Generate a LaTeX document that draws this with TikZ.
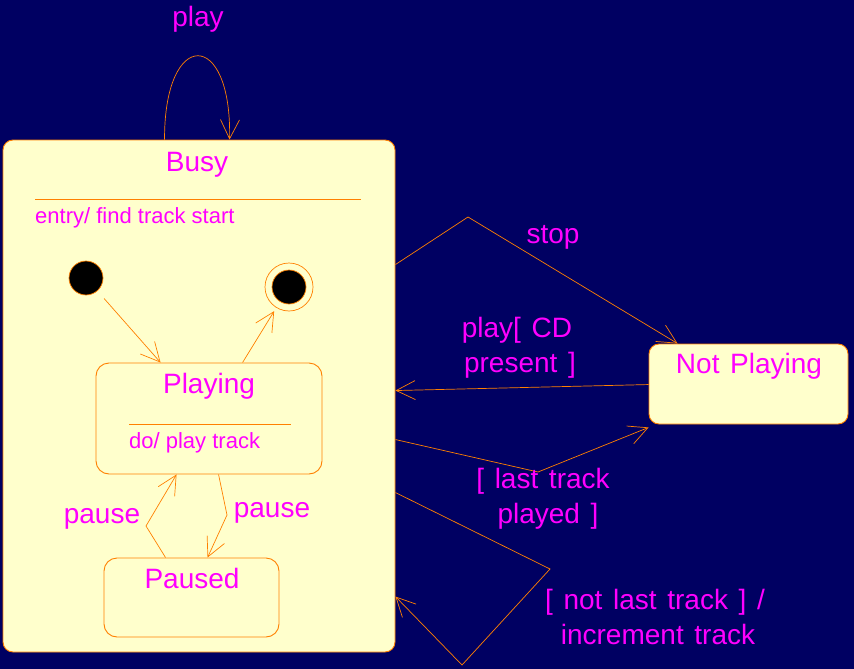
\documentclass[tikz,border=0pt]{standalone}
\usepackage{fontspec}
\setmainfont{Liberation Sans}
\usetikzlibrary{arrows.meta,calc}
\definecolor{bg}{HTML}{000062}
\definecolor{tr}{HTML}{FF8000}
\definecolor{st}{HTML}{FFFFCC}
\definecolor{tx}{HTML}{FF00FF}
\newcommand{\lblfont}{\fontsize{28}{31}\selectfont\spaceskip=0.38em plus 0pt minus 0pt\relax}
\begin{document}
\begin{tikzpicture}[x=1pt,y=-1pt,
  statebox/.style={draw=tr, fill=st, line width=0.9pt, rounded corners=#1, inner sep=0pt},
  lbl/.style={text=tx, font=\lblfont, anchor=base, inner sep=0pt},
  small/.style={text=tx, font=\fontsize{22}{26}\selectfont, anchor=base west, inner sep=0pt},
  trans/.style={draw=tr, line width=0.7pt, -{Straight Barb[length=19pt,width=19pt]}},
  sep/.style={draw=tr, line width=0.8pt},
  dot/.style={circle, fill=black, draw=tr, line width=0.7pt, minimum size=34pt, inner sep=0pt}
]
\fill[bg] (0,0) rectangle (854,669);
\useasboundingbox (0,0) rectangle (854,669);

% states
\node[statebox=10pt, minimum width=392pt, minimum height=512pt] (busy) at (199,396) {};
\node[lbl] (busyT) at (197,171) {Busy};
\coordinate (bs1) at (35,199); \coordinate (bs2) at (361,199);
\draw[sep] (bs1) -- (bs2);
\node[small] (entry) at (35,223) {entry/ find track start};

\node[statebox=13pt, minimum width=226pt, minimum height=111pt] (playing) at (209,418.5) {};
\node[lbl] (playingT) at (209,393) {Playing};
\coordinate (ps1) at (129,424); \coordinate (ps2) at (291,424);
\draw[sep] (ps1) -- (ps2);
\node[small] (dotext) at (129,448) {do/ play track};

\node[statebox=13pt, minimum width=175pt, minimum height=79pt] (paused) at (191.5,597.5) {};
\node[lbl] (pausedT) at (192,588) {Paused};

\node[statebox=10pt, minimum width=199pt, minimum height=80pt] (notplaying) at (748.5,384) {};
\node[lbl] (notplayingT) at (749,373) {Not Playing};

\node[dot] (init) at (86,278) {};
\node[circle, draw=tr, line width=0.7pt, minimum size=48pt, inner sep=0pt] (final) at (289,287) {};
\node[dot] (finalin) at (289,287) {};

% waypoints
\coordinate (loopA) at ($(busy.north west)+(162,0)$);
\coordinate (loopB) at ($(busy.north west)+(227,0)$);
\coordinate (initT) at ($(playing.north west)+(65,0)$);
\coordinate (finS) at ($(playing.north west)+(147,0)$);
\coordinate (pdS) at ($(playing.south west)+(123,0)$);
\coordinate (pdM) at (227,515);
\coordinate (pdT) at ($(paused.north west)+(104,0)$);
\coordinate (puS) at ($(paused.north west)+(62,0)$);
\coordinate (puM) at (146,526);
\coordinate (puT) at ($(playing.south west)+(81,0)$);
\coordinate (stS) at ($(busy.north east)+(0,125)$);
\coordinate (stM) at (468,217);
\coordinate (stT) at ($(notplaying.north west)+(29,0)$);
\coordinate (cdS) at ($(notplaying.north west)+(0,41)$);
\coordinate (cdT) at ($(busy.north east)+(0,251)$);
\coordinate (ltS) at ($(busy.north east)+(0,300)$);
\coordinate (ltM) at (538,472);
\coordinate (ltT) at ($(notplaying.south west)+(0,3)$);
\coordinate (nlS) at ($(busy.north east)+(0,353)$);
\coordinate (nlM1) at (550,569);
\coordinate (nlM2) at (462,665);
\coordinate (nlT) at ($(busy.north east)+(0,457)$);

% transitions
\draw[trans] (loopA) .. controls (164,28) and (232,28) .. (loopB);
\node[lbl] (playL) at (198,27) {play};
\draw[trans, shorten <=10pt] (init) -- (initT);
\draw[trans, shorten >=4pt] (finS) -- (final);
\draw[trans] (pdS) -- (pdM) -- (pdT);
\node[lbl] (pauseR) at (272,517) {pause};
\draw[trans] (puS) -- (puM) -- (puT);
\node[lbl] (pauseL) at (102,523) {pause};
\draw[trans] (stS) -- (stM) -- (stT);
\node[lbl] (stopL) at (553,243) {stop};
\draw[trans] (cdS) -- (cdT);
\node[lbl] (cdL1) at (517,337) {play[ CD};
\node[lbl] (cdL2) at (520,372) {present ]};
\draw[trans] (ltS) -- (ltM) -- (ltT);
\node[lbl] (ltL1) at (543,488) {[ last track};
\node[lbl] (ltL2) at (548,523) {played ]};
\draw[trans] (nlS) -- (nlM1) -- (nlM2) -- (nlT);
\node[lbl] (nlL1) at (655,609) {[ not last track ] /};
\node[lbl] (nlL2) at (658,644) {increment track};
\end{tikzpicture}
\end{document}
